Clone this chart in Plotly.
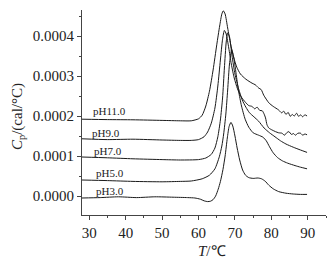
import plotly.graph_objects as go

# ---- data ----
T11 = [28, 35, 42, 50, 55, 58, 60, 61, 62, 63, 64, 65, 65.8, 66.4, 66.8, 67.3, 68, 68.8, 69.6, 70.5, 71.5, 73, 74.7,
       75.6, 76.5, 77.2, 77.9, 79.3, 80.5, 82, 82.8, 83.4, 84.0, 84.6, 85.2, 85.7, 86.3, 86.9, 87.5, 88.0, 88.6, 89.2, 89.8]
CP11 = [0.000192, 0.000191, 0.0001905, 0.000189, 0.000188, 0.000188, 0.000193, 0.000202, 0.000225, 0.000262, 0.000315,
        0.000378, 0.000425, 0.000455, 0.000463, 0.000455, 0.000420, 0.000380, 0.000348, 0.000322, 0.000305, 0.000292,
        0.000282, 0.000278, 0.000270, 0.000266, 0.000252, 0.000233, 0.000224, 0.000215, 0.000208, 0.000212, 0.000204,
        0.000209, 0.000199, 0.000204, 0.000200, 0.000207, 0.000199, 0.000203, 0.000198, 0.000203, 0.000200]

T9 = [28, 35, 42, 50, 55, 58, 60, 61.5, 62.5, 63.5, 64.5, 65.3, 66, 66.6, 67.1, 67.6, 68.3, 69, 69.8, 70.7, 71.7, 72.9,
      73.8, 74.7, 75.4, 76.1, 76.8, 77.5, 78.0, 78.4, 78.8, 79.3, 80.2, 81.1, 82.0, 82.9, 83.6, 84.2, 84.8, 85.5, 86.1,
      86.6, 87.3, 88.0, 88.6, 89.2, 89.8]
CP9 = [0.000143, 0.000141, 0.000142, 0.000140, 0.000139, 0.000139, 0.000141, 0.000148, 0.000160, 0.000182, 0.000220,
       0.000275, 0.000340, 0.000392, 0.000414, 0.000405, 0.000370, 0.000330, 0.000295, 0.000268, 0.000248, 0.000234,
       0.000226, 0.000224, 0.000218, 0.000222, 0.000214, 0.000213, 0.000205, 0.000195, 0.000178, 0.000170, 0.000165,
       0.000161, 0.000158, 0.000157, 0.000152, 0.000158, 0.000161, 0.000154, 0.000156, 0.000152, 0.000157, 0.000157,
       0.000152, 0.000155, 0.000153]

T7 = [28, 35, 42, 50, 55, 60, 62, 63.5, 64.5, 65.3, 66, 66.6, 67.1, 67.6, 68, 68.5, 69.2, 70, 71, 72, 73, 74, 75.2,
      76.5, 78, 79.5, 81, 82.5, 84, 86, 88, 89.8]
CP7 = [0.0000975, 0.0000955, 0.000093, 0.000091, 0.000090, 0.000091, 0.000095, 0.000104, 0.000120, 0.000148, 0.000190,
       0.000245, 0.000320, 0.000385, 0.000408, 0.000398, 0.000350, 0.000305, 0.000268, 0.000240, 0.000222, 0.000208,
       0.000198, 0.000187, 0.000170, 0.000158, 0.000148, 0.000138, 0.000130, 0.000122, 0.000115, 0.000109]

T5 = [28, 35, 42, 50, 55, 58, 61, 63, 64.5, 65.7, 66.4, 66.9, 67.5, 68, 68.5, 69.1, 69.7, 70.4, 71, 71.8, 72.8, 73.8,
      75, 76.5, 77.7, 78.6, 79.5, 80.5, 81.7, 83, 84.5, 86.5, 88, 89.8]
CP5 = [0.0000400, 0.0000385, 0.0000365, 0.0000355, 0.0000365, 0.0000375, 0.0000430, 0.0000520, 0.0000680, 0.0000980,
       0.000125, 0.000155, 0.000205, 0.000265, 0.000330, 0.000366, 0.000345, 0.000300, 0.000262, 0.000225, 0.000192,
       0.000172, 0.000158, 0.000152, 0.000147, 0.000138, 0.000123, 0.000108, 0.000096, 0.000088, 0.000082, 0.000076,
       0.000072, 0.000068]

T3 = [28, 33, 38, 43, 48, 53, 57, 59, 60.5, 61.5, 62.5, 63.3, 64, 64.7, 65.4, 66, 66.7, 67.3, 67.9, 68.4, 68.9, 69.4,
      70, 70.6, 71.3, 72.1, 72.9, 73.8, 75, 76.3, 77.3, 78.3, 79.3, 80.5, 82, 84, 86, 88, 89.8]
CP3 = [-0.000005, -0.000004, -0.000002, -0.000004, -0.000002, -0.000003, -0.000004, -0.000005, -0.000008, -0.000012,
       -0.000014, -0.000013, -0.000009, 0.000000, 0.000017, 0.000036, 0.000066, 0.000100, 0.000145, 0.000174, 0.000184,
       0.000175, 0.000150, 0.000120, 0.000090, 0.000065, 0.000052, 0.000046, 0.000044, 0.000045, 0.000043, 0.000037,
       0.000027, 0.000018, 0.000011, 0.000007, 0.000005, 0.000004, 0.000004]

labels = ["pH11.0", "pH9.0", "pH7.0", "pH5.0", "pH3.0"]
label_x = [30.4, 30.3, 30.75, 31.2, 31.2]
label_y = [0.0002125, 0.000158, 0.0001125, 0.0000583, 0.0000125]

x_ticks = [30, 40, 50, 60, 70, 80, 90]
y_ticks = [0.0, 0.0001, 0.0002, 0.0003, 0.0004]

series = [(T11, CP11), (T9, CP9), (T7, CP7), (T5, CP5), (T3, CP3)]

fig = go.Figure()
for tx, cy in series:
    fig.add_trace(go.Scatter(x=tx, y=cy, mode="lines",
                             line=dict(color="#1a1a1a", width=1, shape="spline", smoothing=0.6),
                             showlegend=False, hoverinfo="skip"))

serif = "Liberation Serif"
for lab, lx, ly in zip(labels, label_x, label_y):
    fig.add_annotation(x=lx, y=ly, text=lab, showarrow=False, xanchor="left", yanchor="middle",
                       font=dict(family=serif, size=11, color="#222"))

fig.add_annotation(xref="paper", yref="paper", x=0.533, y=-0.176, text="<i>T</i>/℃", showarrow=False,
                   xanchor="center", yanchor="middle", font=dict(family=serif, size=15, color="#222"))
fig.add_annotation(xref="paper", yref="paper", x=-0.262, y=0.478, text="<i>C</i><sub>p</sub>/(cal/°C)",
                   showarrow=False, textangle=-90, xanchor="center", yanchor="middle",
                   font=dict(family=serif, size=15, color="#222"))

# page body has an 8px default margin, so the figure is sized/offset to compensate
fig.update_layout(
    width=327, height=254,
    margin=dict(l=74, r=9, t=2, b=47),
    paper_bgcolor="white", plot_bgcolor="white",
    font=dict(family=serif, size=15, color="#222"),
)
fig.update_xaxes(range=[28, 95], tickvals=x_ticks, ticks="outside", ticklen=4, tickwidth=1, tickcolor="#444",
                 showline=True, linecolor="#444", linewidth=1, showgrid=False, zeroline=False,
                 minor=dict(dtick=5, tick0=0, ticks="outside", ticklen=2, tickcolor="#444", showgrid=False),
                 tickfont=dict(family=serif, size=15, color="#222"))
fig.update_yaxes(range=[-0.0000475, 0.000465], tickvals=y_ticks, tickformat=".4f", ticks="outside", ticklen=4,
                 tickwidth=1, tickcolor="#444", showline=True, linecolor="#444", linewidth=1, showgrid=False,
                 zeroline=False,
                 minor=dict(dtick=0.00005, tick0=0, ticks="outside", ticklen=2, tickcolor="#444", showgrid=False),
                 tickfont=dict(family=serif, size=15, color="#222"))

fig.write_html("out.html")
